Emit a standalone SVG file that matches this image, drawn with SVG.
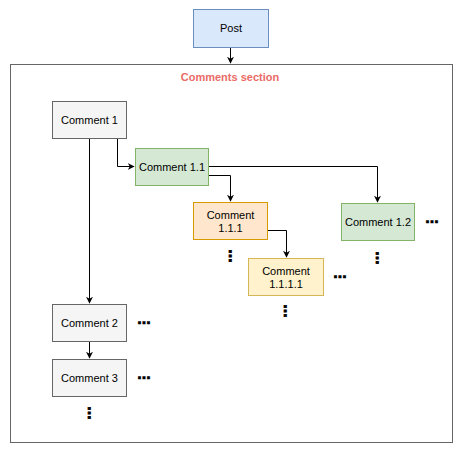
<svg xmlns="http://www.w3.org/2000/svg" width="462" height="452" viewBox="0 0 462 452">
<style>
.t{font-family:"Liberation Sans",Arial,sans-serif;font-size:11px;fill:#000;text-anchor:middle}
.d{font-family:"Liberation Sans",Arial,sans-serif;font-size:16px;font-weight:bold;fill:#000;stroke:#000;stroke-width:0.7;text-anchor:middle}
.e{fill:none;stroke:#000;stroke-width:1}
.gray rect{fill:#f5f5f5;stroke:#666666}
.green rect{fill:#d5e8d4;stroke:#82b366}
</style>
<defs>
<marker id="a" viewBox="0 0 10 10" refX="9" refY="5" markerWidth="7" markerHeight="7" orient="auto" markerUnits="userSpaceOnUse">
<path d="M0,0 L10,5 L0,10 L3,5 Z" fill="#000"/>
</marker>
</defs>
<rect id="container" x="10.5" y="64.5" width="442" height="378" fill="#fff" stroke="#666"/>
<text x="230" y="81" class="t" style="font-weight:bold;fill:#EA6B66">Comments section</text>
<g id="connectors">
<path class="e" d="M230.5,48 V63" marker-end="url(#a)"/>
<path class="e" d="M117.5,139 V166.5 H134" marker-end="url(#a)"/>
<path class="e" d="M89.5,139 V303" marker-end="url(#a)"/>
<path class="e" d="M209,166.5 H377.5 V202" marker-end="url(#a)"/>
<path class="e" d="M209,175.5 H230.5 V201" marker-end="url(#a)"/>
<path class="e" d="M268,230.5 H286.5 V257" marker-end="url(#a)"/>
<path class="e" d="M89.5,342 V358" marker-end="url(#a)"/>
</g>
<g id="post"><rect x="193.5" y="9.5" width="75" height="38" fill="#dae8fc" stroke="#6c8ebf"/><text x="231" y="32" class="t">Post</text></g>
<g id="c1" class="gray"><rect x="52.5" y="101.5" width="74" height="37"/><text x="89.5" y="124" class="t">Comment 1</text></g>
<g id="c11" class="green"><rect x="135.5" y="148.5" width="73" height="37"/><text x="172" y="171" class="t">Comment 1.1</text></g>
<g id="c111"><rect x="193.5" y="202.5" width="74" height="37" fill="#ffe6cc" stroke="#d79b00"/><text x="230.5" y="218.5" class="t">Comment</text><text x="230.5" y="232" class="t">1.1.1</text></g>
<g id="c12" class="green"><rect x="341.5" y="203.5" width="73" height="37"/><text x="378" y="226" class="t">Comment 1.2</text></g>
<g id="c1111"><rect x="248.5" y="258.5" width="75" height="37" fill="#fff2cc" stroke="#d6b656"/><text x="286" y="274.5" class="t">Comment</text><text x="286" y="288" class="t">1.1.1.1</text></g>
<g id="c2" class="gray"><rect x="52.5" y="304.5" width="74" height="37"/><text x="89.5" y="327" class="t">Comment 2</text></g>
<g id="c3" class="gray"><rect x="52.5" y="359.5" width="74" height="37"/><text x="89.5" y="382" class="t">Comment 3</text></g>
<g id="dots">
<text class="d" x="432" y="223">...</text>
<text class="d" x="340" y="278">...</text>
<text class="d" x="144" y="324">...</text>
<text class="d" x="144" y="379">...</text>
<text class="d" transform="translate(228.5,256) rotate(90)" x="0" y="0">...</text>
<text class="d" transform="translate(375.5,258) rotate(90)" x="0" y="0">...</text>
<text class="d" transform="translate(283.5,311) rotate(90)" x="0" y="0">...</text>
<text class="d" transform="translate(87.5,413) rotate(90)" x="0" y="0">...</text>
</g>
</svg>
